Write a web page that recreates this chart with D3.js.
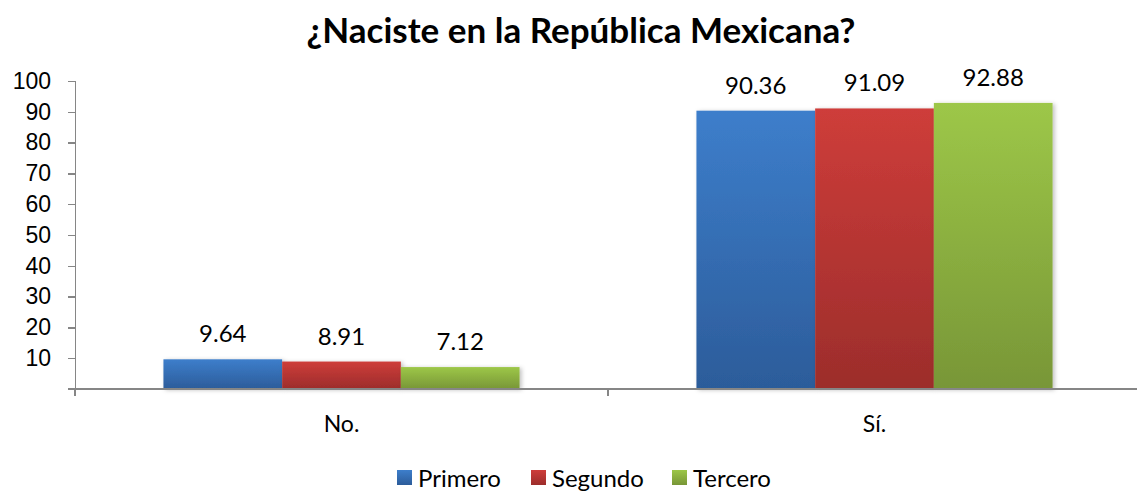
<!DOCTYPE html>
<meta charset="utf-8">
<style>
body { margin: 0; background: #fff; }
svg { font-family: Lato, "Open Sans", sans-serif; }
.axis path, .axis line { stroke: #868686; stroke-width: 1.3; fill: none; shape-rendering: crispEdges; }
.axis text { font-size: 23px; fill: #000; }
</style>
<body>
<div id="chart"></div>
<script src="https://d3js.org/d3.v7.min.js"></script>
<script>
var categories = ["No.", "Sí."];
var seriesNames = ["Primero", "Segundo", "Tercero"];
var primero = [9.64, 90.36];
var segundo = [8.91, 91.09];
var tercero = [7.12, 92.88];
var yTicks = [10, 20, 30, 40, 50, 60, 70, 80, 90, 100];

var colors = [
  {top: "#3d7ecb", bottom: "#2c5c9a"},
  {top: "#ce3d3a", bottom: "#9c2d2b"},
  {top: "#9dc748", bottom: "#789637"}
];

var W = 1137, H = 496;
var margin = {top: 81, left: 75, right: -4, bottom: 107};
var width = W - margin.left - margin.right,
    height = H - margin.top - margin.bottom;

var svg = d3.select("#chart").append("svg")
    .attr("width", W).attr("height", H);

var defs = svg.append("defs");
colors.forEach(function(c, i) {
  var g = defs.append("linearGradient")
      .attr("id", "grad" + i)
      .attr("x1", 0).attr("y1", 0).attr("x2", 0).attr("y2", 1);
  g.append("stop").attr("offset", "0%").attr("stop-color", c.top);
  g.append("stop").attr("offset", "100%").attr("stop-color", c.bottom);
});
var f = defs.append("filter").attr("id", "shadow")
    .attr("x", "-10%").attr("y", "-10%").attr("width", "130%").attr("height", "130%");
f.append("feDropShadow").attr("dx", 2).attr("dy", 1).attr("stdDeviation", 2)
    .attr("flood-color", "#000").attr("flood-opacity", 0.25);

svg.append("text")
    .attr("x", 581).attr("y", 43)
    .attr("text-anchor", "middle")
    .style("font-size", "35px").style("font-weight", "bold")
    .text("¿Naciste en la República Mexicana?");

var g = svg.append("g")
    .attr("transform", "translate(" + margin.left + "," + margin.top + ")");

var x0 = d3.scaleBand().domain(categories).range([0, width]);
var x1 = d3.scaleBand().domain(seriesNames)
    .range([0, x0.bandwidth()]).paddingOuter(0.745).paddingInner(0);
var y = d3.scaleLinear().domain([0, 100]).range([height, 0]);

var data = categories.map(function(c, i) {
  return {cat: c, vals: [primero[i], segundo[i], tercero[i]]};
});

var groups = g.selectAll(".grp").data(data).enter().append("g")
    .attr("transform", function(d) { return "translate(" + x0(d.cat) + ",0)"; });

groups.selectAll("rect").data(function(d) {
  return d.vals.map(function(v, j) { return {name: seriesNames[j], v: v, j: j}; });
}).enter().append("rect")
    .attr("x", function(d) { return x1(d.name); })
    .attr("width", x1.bandwidth())
    .attr("y", function(d) { return y(d.v); })
    .attr("height", function(d) { return height - y(d.v); })
    .attr("fill", function(d) { return "url(#grad" + d.j + ")"; })
    .attr("filter", "url(#shadow)");

groups.selectAll(".lbl").data(function(d) {
  return d.vals.map(function(v, j) { return {name: seriesNames[j], v: v}; });
}).enter().append("text")
    .attr("x", function(d) { return x1(d.name) + x1.bandwidth() / 2; })
    .attr("y", function(d) { return y(d.v) - 17; })
    .attr("text-anchor", "middle")
    .style("font-size", "24px")
    .text(function(d) { return d.v.toFixed(2); });

var yAxis = g.append("g").attr("class", "axis")
    .call(d3.axisLeft(y).tickValues(yTicks).tickSize(7).tickPadding(17).tickSizeOuter(0));
yAxis.select(".domain").attr("d", "M0.5," + (height + 7) + "V0");
yAxis.append("line").attr("x1", -7).attr("x2", 0).attr("y1", height).attr("y2", height);

var xAxis = g.append("g").attr("class", "axis")
    .attr("transform", "translate(0," + height + ")");
xAxis.append("line").attr("x1", 0).attr("x2", width).attr("y1", 0).attr("y2", 0);
xAxis.selectAll(".tk").data([0, x0.bandwidth(), width]).enter().append("line")
    .attr("x1", function(d) { return d; }).attr("x2", function(d) { return d; })
    .attr("y1", 0).attr("y2", 7);
xAxis.selectAll(".cl").data(categories).enter().append("text")
    .attr("x", function(d) { return x0(d) + x0.bandwidth() / 2; })
    .attr("y", 43)
    .attr("text-anchor", "middle")
    .text(function(d) { return d; });

var legend = svg.append("g").attr("transform", "translate(397,470)");
var legX = [0, 134, 275];
seriesNames.forEach(function(n, i) {
  var it = legend.append("g").attr("transform", "translate(" + legX[i] + ",0)");
  it.append("rect").attr("width", 15).attr("height", 15).attr("fill", "url(#grad" + i + ")");
  it.append("text").attr("x", 21).attr("y", 17).style("font-size", "24px").text(n);
});
</script>
</body>
